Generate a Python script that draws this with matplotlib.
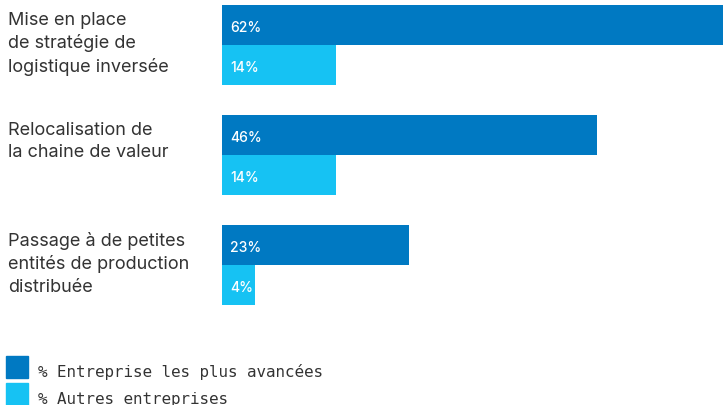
import matplotlib.pyplot as plt
from matplotlib.patches import Rectangle
from matplotlib.transforms import blended_transform_factory

# data
categories = ["Mise en place\nde stratégie de\nlogistique inversée",
              "Relocalisation de\nla chaine de valeur",
              "Passage à de petites\nentités de production\ndistribuée"]
avancees = [62, 46, 23]
autres = [14, 14, 4]
series_names = ["% Entreprise les plus avancées", "% Autres entreprises"]

dark = "#0079c2"
light = "#16c2f3"
txt = "#333333"

W, H = 723, 406
fig = plt.figure(figsize=(W / 100, H / 100), dpi=100)
ax = fig.add_axes([222 / W, 1 - 306 / H, 1 - 222 / W, 300 / H])
lab_tr = blended_transform_factory(fig.transFigure, ax.transData)

step = 2.75
for i, cat in enumerate(categories):
    y0 = i * step
    ax.barh(y0, avancees[i], height=1, color=dark, align="center")
    ax.barh(y0 + 1, autres[i], height=1, color=light, align="center")
    ax.text(1.0, y0 + 0.05, f"{avancees[i]}%", color="white", fontsize=10,
            fontfamily="Inter", fontweight="medium", va="center", ha="left")
    ax.text(1.0, y0 + 1.05, f"{autres[i]}%", color="white", fontsize=10,
            fontfamily="Inter", fontweight="medium", va="center", ha="left")
    ax.text(8 / W, y0 - 0.36, cat, transform=lab_tr,
            color=txt, fontsize=13, fontfamily="Inter", va="top", ha="left", linespacing=1.42)

ax.set_xlim(0, 61.5)
ax.set_ylim(2 * step + 1.5, -0.5)
ax.axis("off")

# legend
for j, (name, col) in enumerate(zip(series_names, [dark, light])):
    top = 357 + j * 27
    fig.patches.append(Rectangle((6 / W, 1 - (top + 22) / H), 22 / W, 22 / H,
                                 transform=fig.transFigure, color=col))
    fig.text(38 / W, 1 - (top + 20) / H, name, fontsize=11.4, fontfamily="DejaVu Sans Mono",
             color=txt, va="baseline", ha="left")

fig.savefig("out.png", dpi=100)
